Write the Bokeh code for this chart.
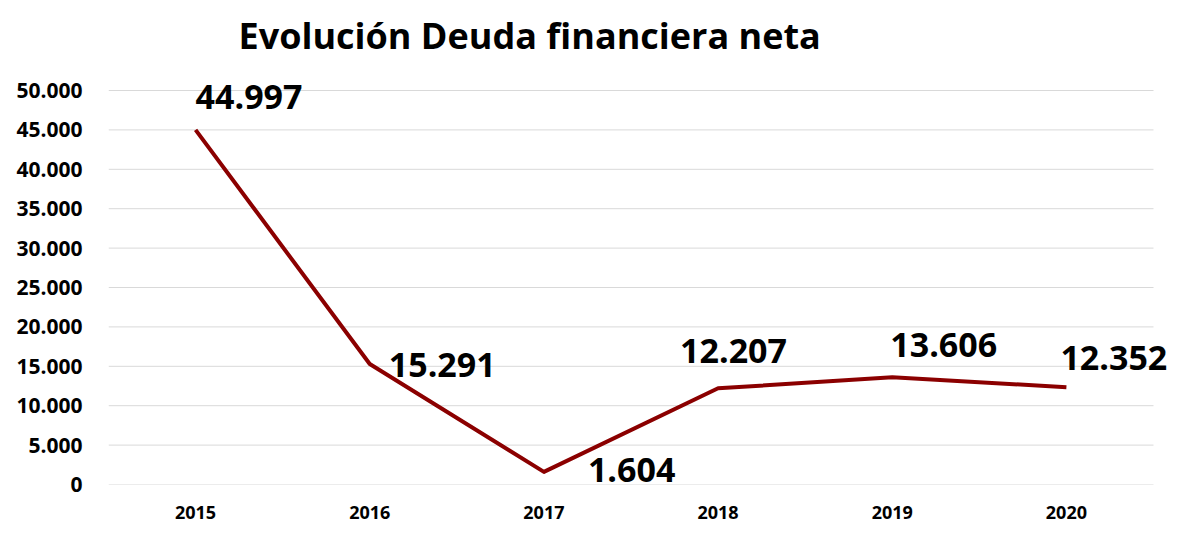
from bokeh.plotting import figure
from bokeh.models import (ColumnDataSource, Range1d, FixedTicker, CustomJSTickFormatter,
                          LabelSet)
from bokeh.core.properties import value
from bokeh.embed import file_html
from bokeh.resources import INLINE

# ---- data ----
years = ["2015", "2016", "2017", "2018", "2019", "2020"]
deuda = [44997, 15291, 1604, 12207, 13606, 12352]
deuda_labels = ["44.997", "15.291", "1.604", "12.207", "13.606", "12.352"]
y_ticks = [0, 5000, 10000, 15000, 20000, 25000, 30000, 35000, 40000, 45000, 50000]
y_max = 50000

# label placement (style, px)
lab_dx = [0, 19, 44, -38, -2, -6]
lab_dy = [21, -13, -10, 25, 20, 17]

FONT = "Open Sans"
LINE_COLOR = "#8B0000"
GRID_COLOR = "#d9d9d9"

# layout (px)
W, H = 1168, 525
LEFT, RIGHT, TOP, BOTTOM = 108, 0, 66, 41
PLOT_TOP_Y = 90          # pixel row where y_max sits
n = len(years)
xs = list(range(n))
frame_w = W - LEFT - RIGHT
px_per_cat = 1045 / n                       # category band width
x_end = -0.5 + frame_w / px_per_cat
units_per_px = y_max / (H - BOTTOM - PLOT_TOP_Y)
y_end = y_max + (PLOT_TOP_Y - TOP) * units_per_px

src = ColumnDataSource(dict(x=xs, y=deuda, txt=deuda_labels, dx=lab_dx, dy=lab_dy))
grid_src = ColumnDataSource(dict(y=y_ticks, x0=[-0.5] * len(y_ticks), x1=[n - 0.5] * len(y_ticks)))

p = figure(width=W, height=H, output_backend="svg", toolbar_location=None,
           x_range=Range1d(-0.5, x_end), y_range=Range1d(0, y_end),
           min_border_left=LEFT, min_border_right=RIGHT, min_border_top=TOP,
           min_border_bottom=BOTTOM)

p.title.text = "Evolución Deuda financiera neta"
p.title.text_font = FONT
p.title.text_font_size = "36px"
p.title.text_font_style = "bold"
p.title.text_color = "#000000"
p.title.align = "left"
p.title.offset = 130
p.title.vertical_align = "top"
p.title.standoff = 10

p.outline_line_color = None
p.background_fill_color = "white"
p.border_fill_color = "white"

# horizontal gridlines limited to the category area
p.segment(x0="x0", y0="y", x1="x1", y1="y", source=grid_src,
          line_color=GRID_COLOR, line_width=1)

p.line(x="x", y="y", source=src, line_color=LINE_COLOR, line_width=4, line_join="round")

labels = LabelSet(x="x", y="y", text="txt", source=src, x_offset="dx", y_offset="dy",
                  text_font=value(FONT), text_font_size=value("34px"),
                  text_font_style=value("bold"),
                  text_color="#000000", text_align="left", text_baseline="alphabetic")
p.add_layout(labels)

# axes
p.yaxis.ticker = FixedTicker(ticks=y_ticks)
p.yaxis.formatter = CustomJSTickFormatter(code="""
    return tick.toFixed(0).replace(/\\B(?=(\\d{3})+(?!\\d))/g, '.');
""")
p.yaxis.major_label_text_font = FONT
p.yaxis.major_label_text_font_size = "21px"
p.yaxis.major_label_text_font_style = "bold"
p.yaxis.major_label_text_color = "#000000"
p.yaxis.major_label_standoff = 20
p.yaxis.axis_line_color = None
p.yaxis.major_tick_line_color = None
p.yaxis.minor_tick_line_color = None

p.xaxis.ticker = FixedTicker(ticks=xs)
p.xaxis.major_label_overrides = {i: y for i, y in zip(xs, years)}
p.xaxis.major_label_text_font = FONT
p.xaxis.major_label_text_font_size = "18px"
p.xaxis.major_label_text_font_style = "bold"
p.xaxis.major_label_text_color = "#000000"
p.xaxis.major_label_standoff = 15
p.xaxis.axis_line_color = None
p.xaxis.major_tick_line_color = None
p.xaxis.minor_tick_line_color = None

p.xgrid.grid_line_color = None
p.ygrid.grid_line_color = None

open("out.html", "w").write(file_html(p, INLINE))
